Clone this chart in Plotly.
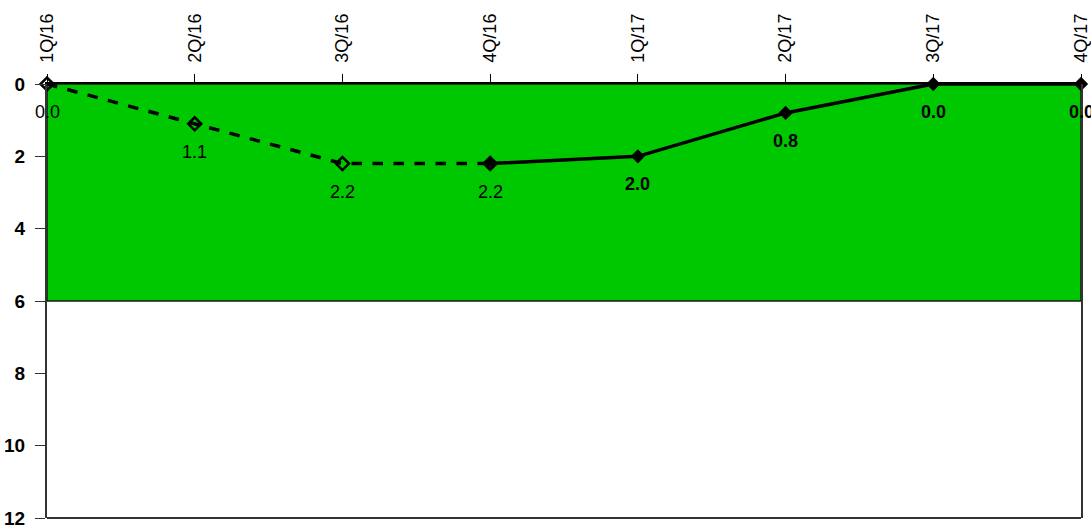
import plotly.graph_objects as go

quarters = ["1Q/16", "2Q/16", "3Q/16", "4Q/16", "1Q/17", "2Q/17", "3Q/17", "4Q/17"]
values = [0.0, 1.1, 2.2, 2.2, 2.0, 0.8, 0.0, 0.0]
dashed_idx = [0, 1, 2, 3]
solid_idx = [3, 4, 5, 6, 7]
bold_label_from = 4
band_top = 0
band_bottom = 6
y_ticks = [0, 2, 4, 6, 8, 10, 12]

xs = list(range(len(quarters)))

fig = go.Figure()
fig.add_shape(type="rect", xref="paper", yref="y", x0=0, x1=1, y0=band_top, y1=band_bottom,
              fillcolor="#00c800", line=dict(color="#1a1a1a", width=1.5), layer="below")

fig.add_trace(go.Scatter(
    x=[xs[i] for i in dashed_idx], y=[values[i] for i in dashed_idx],
    mode="lines+markers",
    line=dict(color="black", width=3.5, dash="dash"),
    marker=dict(symbol="diamond-open", size=10, color="black", line=dict(width=2.5, color="black")),
    showlegend=False, cliponaxis=False))
fig.add_trace(go.Scatter(
    x=[xs[i] for i in solid_idx], y=[values[i] for i in solid_idx],
    mode="lines+markers",
    line=dict(color="black", width=3.5),
    marker=dict(symbol="diamond", size=11, color="black"),
    showlegend=False, cliponaxis=False))

for i, v in enumerate(values):
    fig.add_annotation(
        x=xs[i], y=v, text=f"{v:.1f}", showarrow=False, yshift=-28,
        font=dict(family="Liberation Sans", size=18, color="black",
                  weight="bold" if i >= bold_label_from else "normal"))

fig.update_layout(
    width=1091, height=531,
    margin=dict(l=47, r=10, t=84, b=13),
    paper_bgcolor="white", plot_bgcolor="white",
    font=dict(family="Liberation Sans", color="black"),
    xaxis=dict(side="top", range=[0, len(quarters) - 1], tickvals=xs, ticktext=quarters,
               tickangle=-90, ticks="outside", ticklen=8, tickcolor="black",
               showline=True, linecolor="black", linewidth=1.5, showgrid=False, zeroline=False,
               automargin=False, ticklabelstandoff=8,
               tickfont=dict(size=18, family="Liberation Sans")),
    yaxis=dict(range=[12, 0], tickvals=y_ticks, ticks="outside", ticklen=10, tickcolor="#333",
               showline=True, linecolor="#333", linewidth=2, showgrid=False, zeroline=False,
               mirror=True, automargin=False, ticklabelstandoff=6,
               tickfont=dict(size=19, family="Liberation Sans", weight="bold")),
)
fig.add_shape(type="line", xref="paper", yref="paper", x0=0, x1=1, y0=0, y1=0,
              line=dict(color="#333", width=2))

fig.write_html("out.html", config={"displayModeBar": False},
               post_script="document.body.style.margin='0';document.body.style.overflow='hidden';")
